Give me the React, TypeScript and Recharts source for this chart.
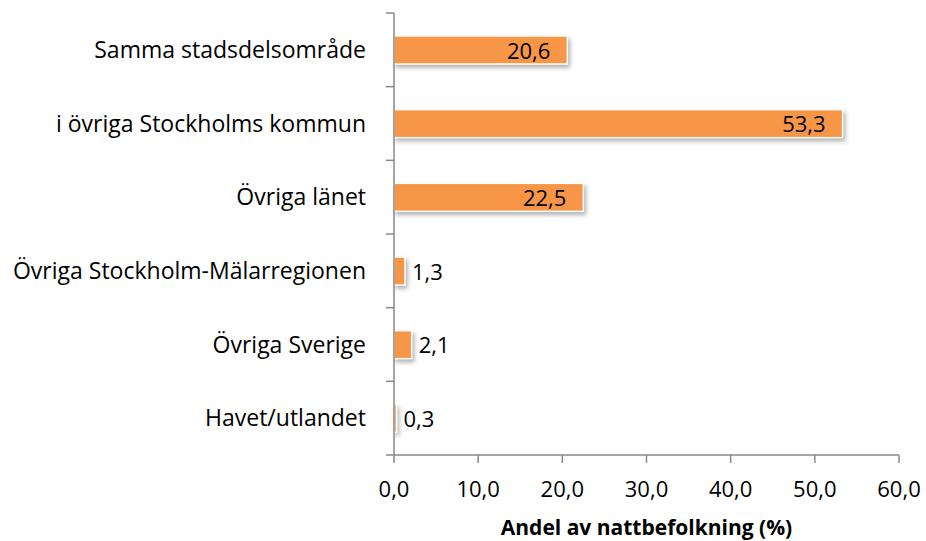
import { BarChart, Bar, XAxis, YAxis, LabelList, Label } from 'recharts'

// ─── Data ───────────────────────────────────────────────────────────────────

const categories = [
  'Samma stadsdelsområde',
  'i övriga Stockholms kommun',
  'Övriga länet',
  'Övriga Stockholm-Mälarregionen',
  'Övriga Sverige',
  'Havet/utlandet',
]
const shares = [20.6, 53.3, 22.5, 1.3, 2.1, 0.3]
const xTicks = [0, 10, 20, 30, 40, 50, 60]

const data = categories.map((name, i) => ({ name, share: shares[i] }))

// ─── Styling ────────────────────────────────────────────────────────────────

const FONT = '"Open Sans", sans-serif'
const AXIS_COLOR = '#898989'
const BAR_COLOR = '#F79646'
const TICK_SIZE = 8
const TICK_MARGIN = 20

const fmt = (v: number) => Number(v).toFixed(1).replace('.', ',')

// eslint-disable-next-line @typescript-eslint/no-explicit-any
function CategoryTick(props: any) {
  const { x, y, payload, index } = props
  const half = payload?.offset ?? 0
  const axisX = x + TICK_SIZE + TICK_MARGIN
  const isLast = index === categories.length - 1
  return (
    <g>
      <line x1={axisX - TICK_SIZE} x2={axisX} y1={y - half} y2={y - half} stroke={AXIS_COLOR} strokeWidth={1.5} />
      {isLast && (
        <line x1={axisX - TICK_SIZE} x2={axisX} y1={y + half} y2={y + half} stroke={AXIS_COLOR} strokeWidth={1.5} />
      )}
      <text x={x} y={y} dy="0.36em" textAnchor="end" fontSize={23} fill="#000" fontFamily={FONT}>
        {payload.value}
      </text>
    </g>
  )
}

// eslint-disable-next-line @typescript-eslint/no-explicit-any
function ShadowBar(props: any) {
  const { x, y, width, height } = props
  return (
    <rect
      x={x}
      y={y}
      width={width}
      height={height}
      fill={BAR_COLOR}
      stroke="#fff"
      strokeWidth={1.5}
      style={{ filter: 'drop-shadow(2px 3px 2px rgba(0,0,0,0.3))' }}
    />
  )
}

// eslint-disable-next-line @typescript-eslint/no-explicit-any
function ValueLabel(props: any) {
  const { x, y, width, height, value } = props
  const inside = width > 60
  const tx = inside ? x + width - 17 : x + width + 7
  return (
    <text
      x={tx}
      y={y + height / 2}
      dy="0.4em"
      textAnchor={inside ? 'end' : 'start'}
      fontSize={22}
      fill="#000"
      fontFamily={FONT}
    >
      {fmt(value)}
    </text>
  )
}

export default function App() {
  return (
    <div style={{ position: 'absolute', left: 0, top: 0, fontFamily: FONT }}>
      <BarChart
        width={926}
        height={541}
        data={data}
        layout="vertical"
        margin={{ top: 13, right: 27, left: 0, bottom: 0 }}
      >
        <XAxis
          type="number"
          domain={[0, 60]}
          ticks={xTicks}
          tickFormatter={fmt}
          height={86}
          axisLine={{ stroke: AXIS_COLOR, strokeWidth: 1.5 }}
          tickLine={{ stroke: AXIS_COLOR, strokeWidth: 1.5 }}
          tickSize={TICK_SIZE}
          tickMargin={18}
          tick={{ fontSize: 22, fill: '#000', fontFamily: FONT }}
        >
          <Label
            value="Andel av nattbefolkning (%)"
            position="insideBottom"
            offset={6}
            style={{ fontSize: 21, fontWeight: 700, fill: '#000', fontFamily: FONT }}
          />
        </XAxis>
        <YAxis
          type="category"
          dataKey="name"
          width={394}
          axisLine={{ stroke: AXIS_COLOR, strokeWidth: 1.5 }}
          tickLine={false}
          tickSize={TICK_SIZE}
          tickMargin={TICK_MARGIN}
          tick={<CategoryTick />}
          interval={0}
        />
        <Bar dataKey="share" barSize={28} shape={<ShadowBar />} isAnimationActive={false}>
          <LabelList dataKey="share" content={<ValueLabel />} />
        </Bar>
      </BarChart>
    </div>
  )
}
